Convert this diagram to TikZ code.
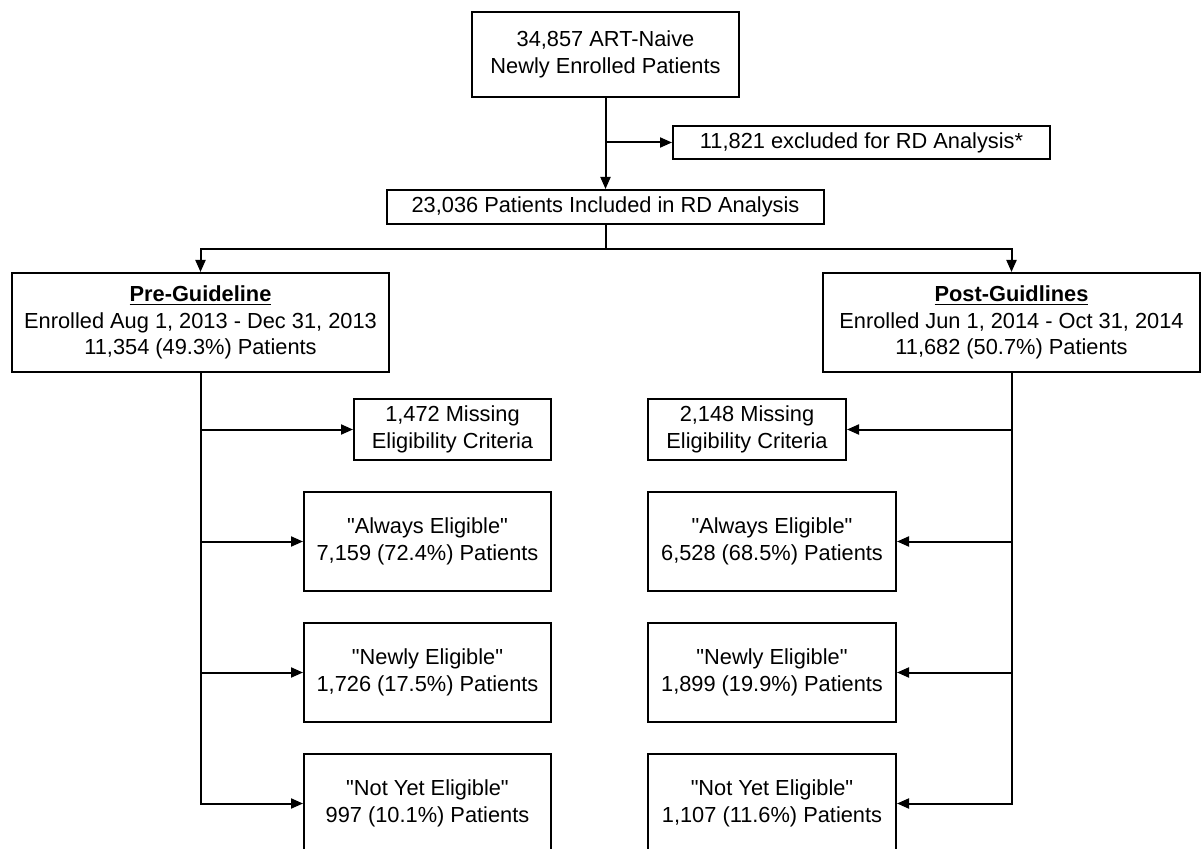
\documentclass[tikz,border=0pt]{standalone}
\usepackage{fontspec}
\setmainfont{Liberation Sans}
\usepackage{tikz}
\usetikzlibrary{arrows.meta}
\newcommand{\qmark}{\textquotedbl}

\begin{document}
\begin{tikzpicture}[x=0.5pt,y=-0.5pt]
    \tikzstyle{every node}+=[inner sep=0pt,font=\fontsize{10.9}{13.3}\selectfont]
    \tikzstyle{box}=[draw=black,line width=1pt,align=center]
    \tikzstyle{arr}=[line width=1pt,-{Triangle[length=6pt,width=5pt]}]
    \useasboundingbox (0,0) rectangle (1202,849);
    \node[box,minimum width=133.5pt,minimum height=42.5pt] (top) at (605.5,54.5) {34,857 ART-Naive\\Newly Enrolled Patients};
    \node[box,minimum width=188.5pt,minimum height=16.5pt] (excl) at (861.5,142.5) {11,821 excluded for RD Analysis*};
    \node[box,minimum width=218.5pt,minimum height=17pt] (incl) at (605.5,207) {23,036 Patients Included in RD Analysis};
    \node[box,minimum width=188.5pt,minimum height=49.5pt] (pre) at (200.5,322.5) {\textbf{\underline{Pre-Guideline}}\\Enrolled Aug 1, 2013 - Dec 31, 2013\\11,354 (49.3\%) Patients};
    \node[box,minimum width=188.5pt,minimum height=49.5pt] (post) at (1011.5,322.5) {\textbf{\underline{Post-Guidlines}}\\Enrolled Jun 1, 2014 - Oct 31, 2014\\11,682 (50.7\%) Patients};
    \node[box,minimum width=98.5pt,minimum height=30.5pt] (lmiss) at (452.5,429.5) {1,472 Missing\\Eligibility Criteria};
    \node[box,minimum width=123.5pt,minimum height=49.5pt] (lalw) at (427.5,541.5) {\qmark Always Eligible\qmark\\7,159 (72.4\%) Patients};
    \node[box,minimum width=123.5pt,minimum height=49.5pt] (lnew) at (427.5,672.5) {\qmark Newly Eligible\qmark\\1,726 (17.5\%) Patients};
    \node[box,minimum width=123.5pt,minimum height=49.5pt] (lnot) at (427.5,803.5) {\qmark Not Yet Eligible\qmark\\997 (10.1\%) Patients};
    \node[box,minimum width=99pt,minimum height=30.5pt] (rmiss) at (747,429.5) {2,148 Missing\\Eligibility Criteria};
    \node[box,minimum width=124pt,minimum height=49.5pt] (ralw) at (772,541.5) {\qmark Always Eligible\qmark\\6,528 (68.5\%) Patients};
    \node[box,minimum width=124pt,minimum height=49.5pt] (rnew) at (772,672.5) {\qmark Newly Eligible\qmark\\1,899 (19.9\%) Patients};
    \node[box,minimum width=124pt,minimum height=49.5pt] (rnot) at (772,803.5) {\qmark Not Yet Eligible\qmark\\1,107 (11.6\%) Patients};
    \coordinate (cut) at (605.5,142.5);
    \coordinate (split) at (605.5,249);
    \draw[arr] (top) -- (incl);
    \draw[arr] (cut) -- (excl);
    \draw[line width=1pt] (incl) -- (split);
    \draw[arr] (split) -| (pre);
    \draw[arr] (split) -| (post);
    \draw[arr] (pre) |- (lnot);
    \draw[arr] (post) |- (rnot);
    \foreach \n in {lmiss,lalw,lnew}
        \draw[arr] (pre.south |- \n.west) -- (\n.west);
    \foreach \n in {rmiss,ralw,rnew}
        \draw[arr] (post.south |- \n.east) -- (\n.east);
\end{tikzpicture}
\end{document}
